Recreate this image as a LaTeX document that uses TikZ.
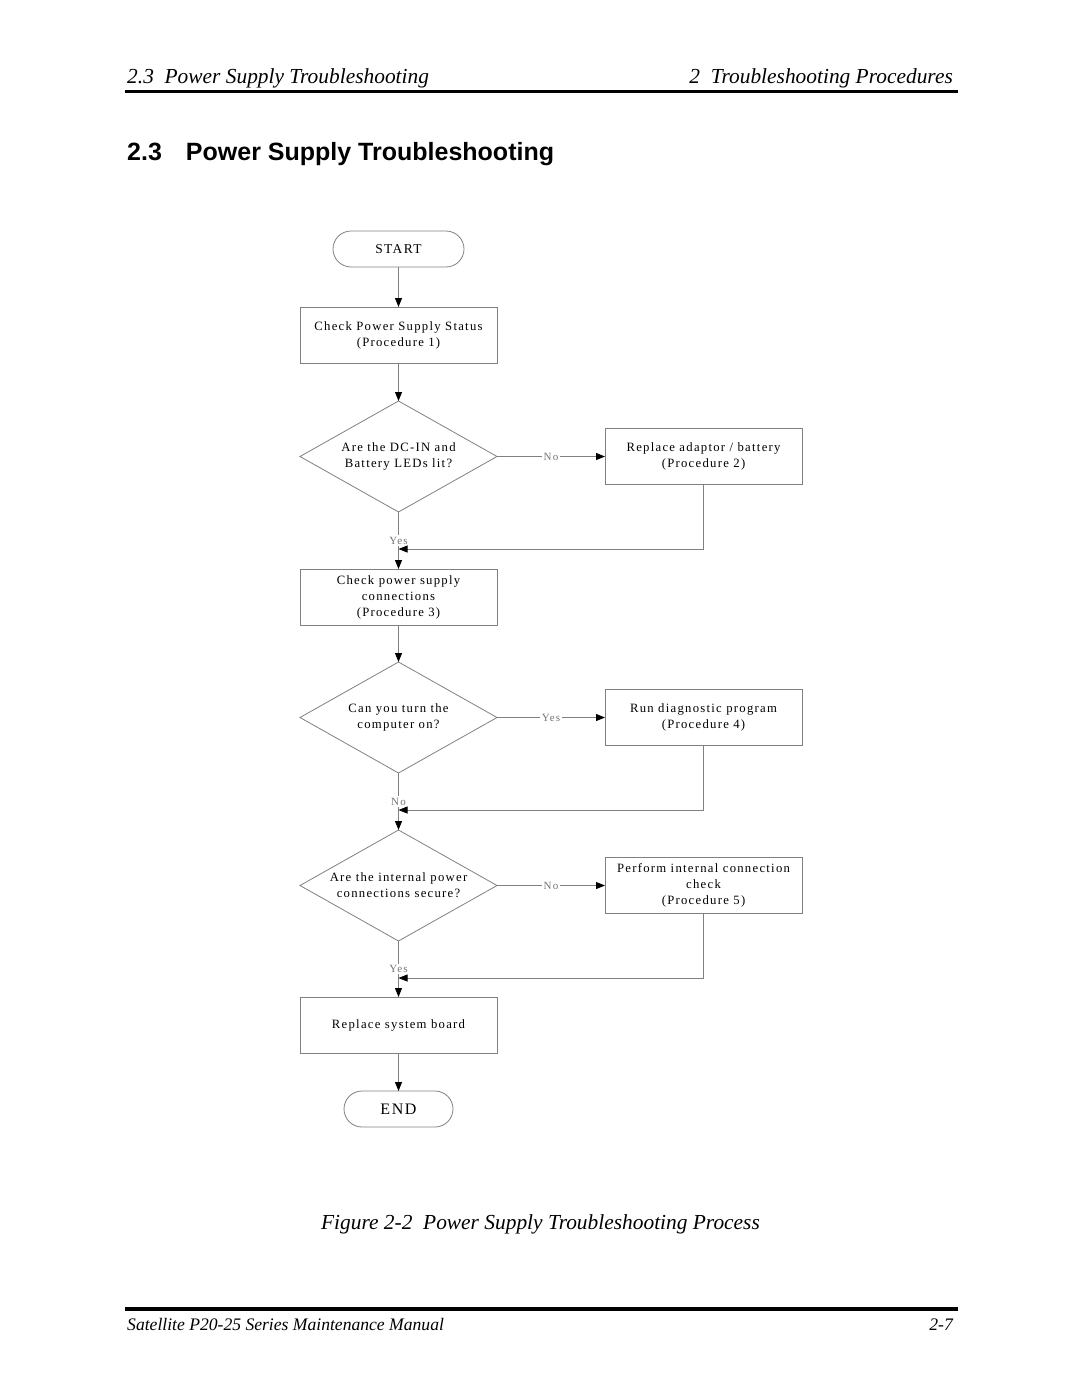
\documentclass[tikz,border=0pt]{standalone}
\usepackage{fontspec}
\setmainfont{Liberation Serif}
\newfontfamily\chartfont[LetterSpace=10]{Liberation Serif}
\newfontfamily\headsans{Liberation Sans}
\usetikzlibrary{positioning,shapes.geometric,arrows.meta}

\tikzset{
  line/.style={draw=gray, line width=0.8pt},
  flow/.style={line, -{Triangle[length=9pt,width=7pt,color=black]}},
  box/.style={line, rectangle, outer sep=0pt, minimum width=197pt, minimum height=56pt, align=center,
    font=\chartfont\fontsize{12.7}{16}\selectfont},
  decision/.style={line, diamond, outer sep=0pt, minimum width=197pt, minimum height=111pt, aspect=1.775,
    inner sep=0pt, align=center, font=\chartfont\fontsize{12.7}{16}\selectfont},
  terminal/.style={line, rectangle, outer sep=0pt, rounded corners=18pt, minimum height=36pt},
  answer/.style={fill=white, inner sep=1.5pt, text=gray!90!black, font=\chartfont\fontsize{11}{12}\selectfont},
}

\begin{document}
\begin{tikzpicture}[x=1pt, y=-1pt, node distance=40pt]
  \useasboundingbox (0,0) rectangle (1080,1397);

  % page header
  \node[anchor=base west, inner sep=0pt] (hleft) at (127,83)
    {\fontsize{21.4}{24}\selectfont\itshape 2.3\ \ Power Supply Troubleshooting};
  \node[anchor=base east, inner sep=0pt] (hright) at (953,83)
    {\fontsize{21.4}{24}\selectfont\itshape 2\ \ Troubleshooting Procedures};
  \draw[line width=3.5pt] (125,91.5) -- (958,91.5);
  \node[anchor=base west, inner sep=0pt] (title) at (127,160)
    {\headsans\bfseries\fontsize{25}{28}\selectfont 2.3\hspace{24pt}Power Supply Troubleshooting};

  % flow chart
  \node[terminal, minimum width=131pt, font=\chartfont\fontsize{13.5}{14}\selectfont] (start) at (398.5,249) {START};
  \node[box] (status) [below=40pt of start] {Check Power Supply Status\\(Procedure 1)};
  \node[decision] (leds) [below=38pt of status] {Are the DC-IN and\\Battery LEDs lit?};
  \node[box] (adaptor) [right=108pt of leds] {Replace adaptor / battery\\(Procedure 2)};
  \node[box] (connect) [below=57pt of leds] {Check power supply\\connections\\(Procedure 3)};
  \node[decision] (turnon) [below=37pt of connect] {Can you turn the\\computer on?};
  \node[box] (diag) [right=108pt of turnon] {Run diagnostic program\\(Procedure 4)};
  \node[decision] (secure) [below=57pt of turnon] {Are the internal power\\connections secure?};
  \node[box] (internal) [right=108pt of secure] {Perform internal connection\\check\\(Procedure 5)};
  \node[box] (board) [below=56pt of secure] {Replace system board};
  \node[terminal, minimum width=109pt, font=\chartfont\fontsize{16}{18}\selectfont] (end) [below=38pt of board] {END};

  \coordinate (join1) at ([yshift=-37pt]leds.south);
  \coordinate (join2) at ([yshift=-37pt]turnon.south);
  \coordinate (join3) at ([yshift=-37pt]secure.south);

  \draw[flow] (start) -- (status);
  \draw[flow] (status) -- (leds);
  \draw[flow] (leds) -- node[answer] {No} (adaptor);
  \draw[flow] (leds) -- node[answer] {Yes} (connect);
  \draw[flow] (adaptor.south) |- (join1);
  \draw[flow] (connect) -- (turnon);
  \draw[flow] (turnon) -- node[answer] {Yes} (diag);
  \draw[flow] (turnon) -- node[answer] {No} (secure);
  \draw[flow] (diag.south) |- (join2);
  \draw[flow] (secure) -- node[answer] {No} (internal);
  \draw[flow] (secure) -- node[answer] {Yes} (board);
  \draw[flow] (internal.south) |- (join3);
  \draw[flow] (board) -- (end);

  % caption and footer
  \node[anchor=base, inner sep=0pt] (caption) at (540.5,1229)
    {\fontsize{21.4}{24}\selectfont\itshape Figure 2-2\ \ Power Supply Troubleshooting Process};
  \draw[line width=4pt] (125,1309) -- (958,1309);
  \node[anchor=base west, inner sep=0pt] (fleft) at (127,1330)
    {\fontsize{17.6}{20}\selectfont\itshape Satellite P20-25 Series Maintenance Manual};
  \node[anchor=base east, inner sep=0pt] (fright) at (953,1330)
    {\fontsize{17.6}{20}\selectfont\itshape 2-7};
\end{tikzpicture}
\end{document}
